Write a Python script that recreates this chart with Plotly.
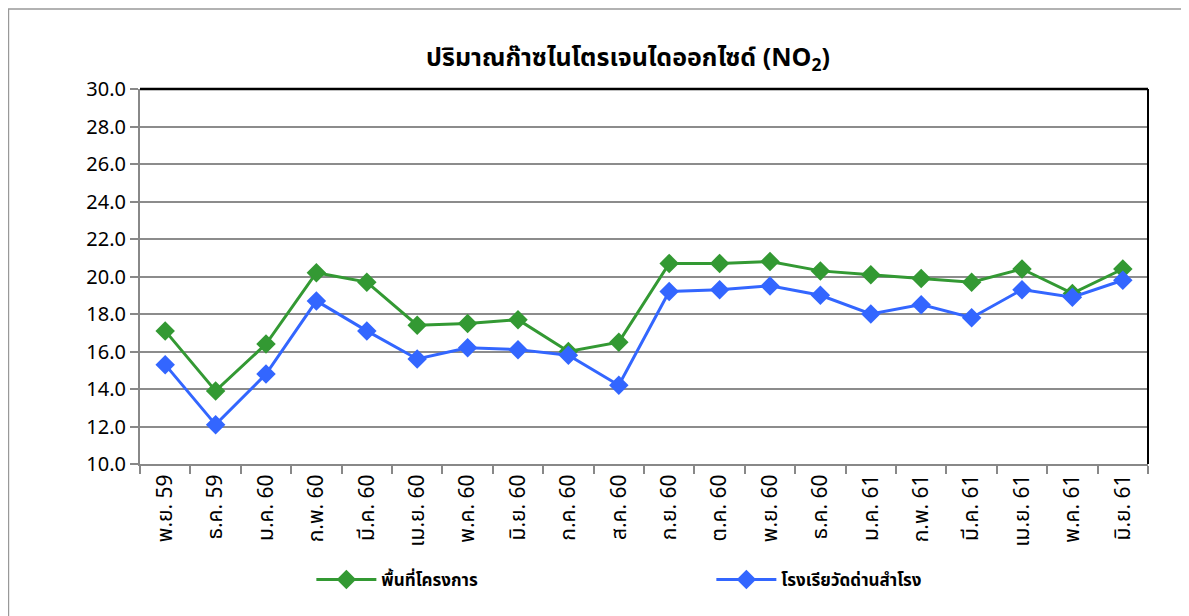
import plotly.graph_objects as go

categories = ["พ.ย. 59", "ธ.ค. 59", "ม.ค. 60", "ก.พ. 60", "มี.ค. 60", "เม.ย. 60", "พ.ค. 60",
              "มิ.ย. 60", "ก.ค. 60", "ส.ค. 60", "ก.ย. 60", "ต.ค. 60", "พ.ย. 60", "ธ.ค. 60",
              "ม.ค. 61", "ก.พ. 61", "มี.ค. 61", "เม.ย. 61", "พ.ค. 61", "มิ.ย. 61"]
project_area = [17.1, 13.9, 16.4, 20.2, 19.7, 17.4, 17.5, 17.7, 16.0, 16.5,
                20.7, 20.7, 20.8, 20.3, 20.1, 19.9, 19.7, 20.4, 19.1, 20.4]
school = [15.3, 12.1, 14.8, 18.7, 17.1, 15.6, 16.2, 16.1, 15.8, 14.2,
          19.2, 19.3, 19.5, 19.0, 18.0, 18.5, 17.8, 19.3, 18.9, 19.8]
y_ticks = [10 + 2 * i for i in range(11)]

font_family = "Tahoma, 'Noto Sans Thai', 'Noto Sans', sans-serif"

fig = go.Figure()
fig.add_trace(go.Scatter(x=categories, y=project_area, name="<b>พื้นที่โครงการ</b>",
                         mode="lines+markers",
                         line=dict(color="#339933", width=3),
                         marker=dict(symbol="diamond", size=15, color="#339933")))
fig.add_trace(go.Scatter(x=categories, y=school, name="<b>โรงเรียวัดด่านสำโรง</b>",
                         mode="lines+markers",
                         line=dict(color="#3366FF", width=3),
                         marker=dict(symbol="diamond", size=15, color="#3366FF")))

W, H = 1181, 608
fig.update_layout(
    width=W, height=H,
    margin=dict(l=132, r=41, t=81, b=152, autoexpand=False),
    paper_bgcolor="white", plot_bgcolor="white",
    font=dict(family=font_family, size=17, color="black"),
    title=dict(text="<b>ปริมาณก๊าซไนโตรเจนไดออกไซด์ (NO<sub>2</sub>)</b>",
               x=620 / W, xanchor="center", xref="container",
               y=1 - 49 / H, yanchor="middle", yref="container",
               font=dict(size=25, color="black")),
    showlegend=True,
    legend=dict(orientation="h", x=0.17, xanchor="left", y=-0.309, yanchor="middle",
                entrywidth=325, font=dict(size=17, color="black"),
                itemwidth=60, traceorder="normal"),
    shapes=[
        dict(type="rect", xref="paper", yref="paper", x0=-0.1305, x1=1.1, y0=-0.45, y1=1.2133,
             line=dict(color="#999999", width=1.5), fillcolor="rgba(0,0,0,0)", layer="below"),
        dict(type="line", xref="paper", yref="paper", x0=0, x1=1, y0=1, y1=1,
             line=dict(color="black", width=2.5)),
        dict(type="line", xref="paper", yref="paper", x0=1, x1=1, y0=0, y1=1,
             line=dict(color="black", width=2)),
    ],
)

fig.update_xaxes(
    type="category", range=[-0.5, len(categories) - 0.5],
    tickangle=-90, tickson="boundaries", automargin=False,
    ticks="outside", ticklen=8, tickcolor="#888888", tickwidth=2,
    showline=True, linecolor="#888888", linewidth=2,
    showgrid=False, tickfont=dict(size=21, color="black"),
)
fig.update_yaxes(
    range=[10, 30], tickvals=y_ticks, tickformat=".1f", automargin=False,
    ticks="outside", ticklen=8, tickcolor="#888888", tickwidth=2,
    showline=True, linecolor="#888888", linewidth=2,
    showgrid=True, gridcolor="#8c8c8c", gridwidth=2,
    tickfont=dict(size=20, color="black"), zeroline=False,
)

fig.write_html("out.html")
